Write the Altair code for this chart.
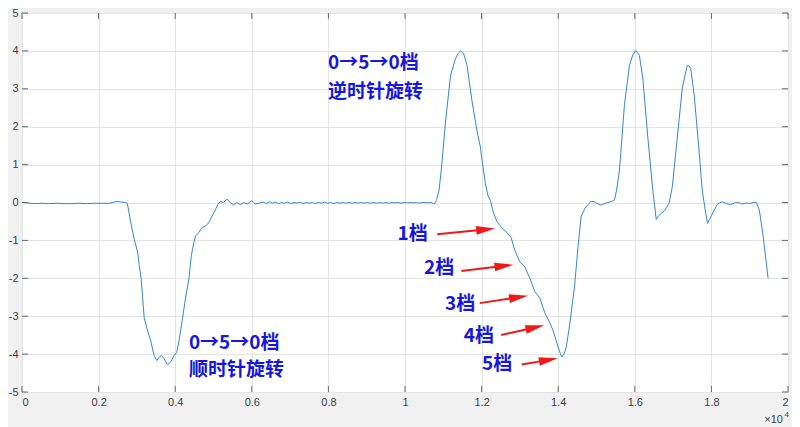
import math
import altair as alt
import pandas as pd

# ---------------- data ----------------
sample = [0, 150, 300, 500, 700, 900, 1100, 1300, 1500, 1700, 1900, 2100, 2300, 2400, 2500, 2600, 2700,
          2750, 2840, 2930, 3020, 3060, 3110, 3190, 3280, 3360, 3450, 3520, 3580, 3640, 3710, 3800, 3880,
          3970, 4040, 4100, 4180, 4270, 4360, 4420, 4490, 4530, 4620, 4700, 4790, 4880, 4960, 5050, 5110,
          5180, 5260, 5350, 5440, 5530, 5610, 5700, 5790, 5880, 6000, 6090, 6220,
          6300, 6380, 6460, 6540, 6620, 6700, 6780, 6860, 6940, 7020, 7100, 7180, 7260, 7340, 7420, 7500,
          7580, 7660, 7740, 7820, 7900, 7980, 8060, 8140, 8220, 8300, 8380, 8460, 8540, 8620, 8700, 8780,
          8860, 8940, 9020, 9100, 9180, 9260, 9340, 9420, 9500, 9580, 9660, 9740, 9820, 9900, 9980, 10060,
          10140, 10220, 10300, 10380, 10450, 10520, 10600, 10680, 10760,
          10820, 10890, 10960, 11060, 11190, 11320, 11400, 11450, 11530, 11620, 11750, 11880, 11970, 12000,
          12100, 12160, 12230, 12310, 12400, 12490, 12580, 12660, 12770, 12870, 13000, 13130, 13260, 13390,
          13520, 13650, 13780, 13870, 14000, 14060, 14100, 14160, 14210, 14300, 14430, 14520, 14600, 14700,
          14780, 14850, 14930, 15000, 15120, 15200, 15300, 15400, 15470, 15520, 15600, 15730, 15860, 15950,
          16030, 16120, 16210, 16340, 16470, 16560, 16620, 16700, 16770, 16840, 16900, 16980, 17110, 17240,
          17370, 17420, 17460, 17550, 17670, 17760, 17850, 17900, 17950, 18060, 18150, 18280, 18400, 18500,
          18600, 18700, 18800, 18930, 19000, 19100, 19170, 19250, 19350, 19480]
signal = [0.0, -0.01, -0.03, -0.02, -0.03, -0.02, -0.03, -0.03, -0.02, -0.03, -0.02, -0.02, -0.02, 0.01, 0.03, 0.01, 0.0,
          -0.02, -0.53, -0.97, -1.31, -1.66, -2.0, -3.04, -3.39, -3.65, -4.04, -4.17, -4.08, -4.04, -4.12, -4.28, -4.21,
          -4.04, -3.95, -3.65, -3.13, -2.52, -2.0, -1.40, -1.05, -0.88, -0.79, -0.66, -0.62, -0.53, -0.36, -0.19, -0.06,
          0.03, 0.0, 0.09, 0.0, -0.06, 0.0, -0.06, 0.0, -0.04, 0.05, -0.04, -0.01,
          0.01, -0.03, 0.02, -0.02, 0.01, -0.03, 0.0, -0.02, 0.01, -0.03, 0.0, -0.02, 0.01, -0.03, 0.0, -0.02,
          0.0, -0.03, 0.0, -0.02, 0.01, -0.02, 0.0, -0.03, 0.0, -0.02, 0.0, -0.02, 0.0, -0.02, 0.0, -0.02,
          0.0, -0.02, 0.0, -0.02, 0.0, -0.02, 0.0, -0.02, 0.0, -0.02, 0.0, -0.01, 0.0, -0.02, 0.0, -0.01,
          0.0, -0.01, 0.0, -0.02, 0.0, 0.0, -0.01, 0.0, -0.04,
          0.05, 0.33, 1.0, 2.15, 3.36, 3.8, 3.95, 4.0, 3.93, 3.62, 2.67, 1.89, 1.46, 1.2,
          0.5, 0.2, 0.05, -0.27, -0.5, -0.62, -0.72, -0.79, -0.92, -1.27, -1.57, -1.70, -2.0, -2.35,
          -2.52, -2.91, -3.17, -3.39, -3.82, -4.0, -4.08, -3.98, -3.82, -3.22, -2.18, -1.14, -0.36, -0.15,
          -0.05, 0.02, 0.03, -0.02, -0.07, -0.03, 0.0, 0.03, 0.07, 0.3, 0.85, 2.58, 3.62, 3.9,
          4.01, 3.88, 3.28, 1.72, 0.33, -0.45, -0.35, -0.28, -0.22, -0.12, 0.0, 0.42, 1.72, 3.02,
          3.62, 3.6, 3.54, 2.84, 1.46, 0.33, -0.27, -0.55, -0.45, -0.23, -0.05, 0.02, -0.03, -0.06,
          -0.01, 0.0, -0.04, -0.01, -0.03, 0.0, 0.0, -0.19, -0.88, -2.0]

x_ticks = [0, 2000, 4000, 6000, 8000, 10000, 12000, 14000, 16000, 18000, 20000]
y_ticks = [-5, -4, -3, -2, -1, 0, 1, 2, 3, 4, 5]

note_text = ["0→5→0档", "逆时针旋转", "0→5→0档", "顺时针旋转", "1档", "2档", "3档", "4档", "5档"]
note_x = [7990, 7990, 4358, 4358, 9805, 10498, 11043, 11536, 12010]
note_y = [3.69, 2.92, -3.72, -4.41, -0.84, -1.73, -2.69, -3.52, -4.25]

arrow_x1 = [10843, 11473, 11951, 12511, 13048]
arrow_y1 = [-0.836, -1.805, -2.655, -3.494, -4.273]
arrow_x2 = [12355, 12833, 13212, 13637, 13990]
arrow_y2 = [-0.688, -1.642, -2.462, -3.242, -4.112]

# ---------------- layout / style ----------------
W, H = 766, 379
X_DOM = [0, 20000]
Y_DOM = [-5, 5]
FRAME = "#7f7f7f"
LINE_COLOR = "#3288c8"
TEXT_BLUE = "#1616e0"
RED = "#ee1a1a"
HEAD = 19  # arrow head length in px

px_per_x = W / (X_DOM[1] - X_DOM[0])
px_per_y = H / (Y_DOM[1] - Y_DOM[0])

df = pd.DataFrame({"sample": sample, "signal": signal})
notes = pd.DataFrame({"x": note_x, "y": note_y, "text": note_text})

rows = []
for x1, y1, x2, y2 in zip(arrow_x1, arrow_y1, arrow_x2, arrow_y2):
    dx = (x2 - x1) * px_per_x
    dy = -(y2 - y1) * px_per_y
    length = math.hypot(dx, dy)
    ang = math.degrees(math.atan2(dy, dx)) % 360
    f = max(0.0, (length - HEAD * 0.8) / length)
    rows.append({"x1": x1, "y1": y1, "x2": x2, "y2": y2,
                 "xs": x1 + (x2 - x1) * f, "ys": y1 + (y2 - y1) * f, "ang": ang})
arrows = pd.DataFrame(rows)

xscale = alt.Scale(domain=X_DOM, nice=False, zero=False)
yscale = alt.Scale(domain=Y_DOM, nice=False, zero=False)

xaxis = alt.Axis(values=x_ticks, labelExpr="'' + (datum.value / 10000)", title=None,
                 grid=True, ticks=False, domain=False, labelPadding=4)
yaxis = alt.Axis(values=y_ticks, labelExpr="'' + datum.value", title=None,
                 grid=True, ticks=False, domain=False, labelPadding=4)


def X(field):
    return alt.X(field, scale=xscale, axis=xaxis)


def Y(field):
    return alt.Y(field, scale=yscale, axis=yaxis)


line = alt.Chart(df).mark_line(color=LINE_COLOR, strokeWidth=1, clip=True).encode(
    x=X("sample:Q"), y=Y("signal:Q"))

xt = pd.DataFrame({"t": x_ticks})
yt = pd.DataFrame({"t": y_ticks})
tick_x_bottom = alt.Chart(xt).mark_rule(color="#666666", strokeWidth=1).encode(
    x=X("t:Q"), y=alt.value(H), y2=alt.value(H - 6))
tick_x_top = alt.Chart(xt).mark_rule(color="#666666", strokeWidth=1).encode(
    x=X("t:Q"), y=alt.value(0), y2=alt.value(6))
tick_y_left = alt.Chart(yt).mark_rule(color="#666666", strokeWidth=1).encode(
    y=Y("t:Q"), x=alt.value(0), x2=alt.value(6))
tick_y_right = alt.Chart(yt).mark_rule(color="#666666", strokeWidth=1).encode(
    y=Y("t:Q"), x=alt.value(W - 6), x2=alt.value(W))

text = alt.Chart(notes).mark_text(
    align="left", baseline="middle", font="Noto Sans CJK SC", fontSize=19,
    fontWeight="bold", color=TEXT_BLUE).encode(
    x=X("x:Q"), y=Y("y:Q"), text="text:N")

shaft = alt.Chart(arrows).mark_rule(color=RED, strokeWidth=2).encode(
    x=X("x1:Q"), y=Y("y1:Q"), x2="xs:Q", y2="ys:Q")
head = alt.Chart(arrows).mark_point(
    shape="M0,0L-2,-0.46L-2,0.46Z", filled=True, color=RED, opacity=1,
    size=HEAD * HEAD, strokeWidth=0).encode(
    x=X("x2:Q"), y=Y("y2:Q"), angle=alt.Angle("ang:Q", scale=None))

mult = alt.Chart(pd.DataFrame({"t": ["×10"]})).mark_text(
    align="right", baseline="middle", fontSize=11, font="Liberation Sans", color="#404040").encode(
    text="t:N", x=alt.value(W - 5), y=alt.value(H + 28))
expo = alt.Chart(pd.DataFrame({"t": ["4"]})).mark_text(
    align="right", baseline="middle", fontSize=8, font="Liberation Sans", color="#404040").encode(
    text="t:N", x=alt.value(W + 1), y=alt.value(H + 23))

chart = alt.layer(
    line, tick_x_bottom, tick_x_top, tick_y_left, tick_y_right, text, shaft, head, mult, expo
).properties(
    width=W, height=H,
    padding={"left": 14, "top": 5, "right": 4, "bottom": 35},
    autosize=alt.AutoSizeParams(type="none"),
    background="#f0f0f0",
).configure_view(
    fill="white", stroke=FRAME, strokeWidth=1
).configure_axis(
    gridColor="#e3e3e3", gridWidth=1, labelFontSize=11, labelFont="Liberation Sans",
    labelColor="#404040"
)

chart.save("out.html", embed_options={"renderer": "svg", "actions": False})
